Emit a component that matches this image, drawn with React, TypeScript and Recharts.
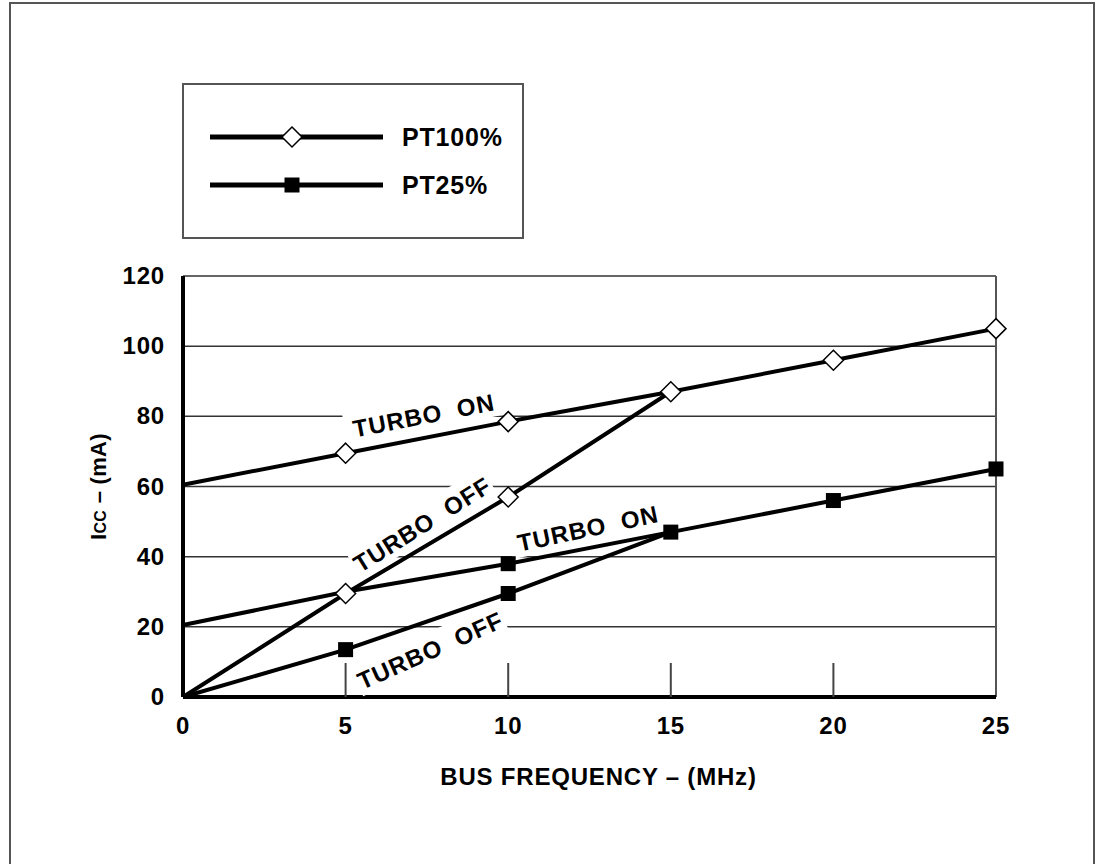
import React from "react";
import {
  CartesianGrid,
  Line,
  LineChart,
  ReferenceDot,
  ReferenceLine,
  XAxis,
  YAxis,
} from "recharts";

// bus frequency (MHz)
const freqFull = [0, 5, 10, 15, 20, 25];
const freqShort = [0, 5, 10, 15];

// Icc (mA)
const pt100On = [60.5, 69.5, 78.5, 87, 96, 105];
const pt100Off = [0, 29.5, 57, 87];
const pt25On = [20.5, 30, 38, 47, 56, 65];
const pt25Off = [0, 13.5, 29.5, 47];

// which points carry a marker (shared points are drawn once)
const pt100OnMarks = [false, true, true, true, true, true];
const pt100OffMarks = [false, true, true, false];
const pt25OnMarks = [false, false, true, true, true, true];
const pt25OffMarks = [false, true, true, false];

const xTicks = [0, 5, 10, 15, 20, 25];
const yTicks = [0, 20, 40, 60, 80, 100, 120];

// curve annotations
const noteText = ["TURBO  ON", "TURBO  OFF", "TURBO  ON", "TURBO  OFF"];
const noteX = [7.4, 7.35, 12.45, 7.6];
const noteY = [80.4, 49.3, 48.2, 13.4];
const noteAngle = [-11, -32, -12, -24];

const FONT = "'Liberation Sans', Arial, Helvetica, sans-serif";
const textStyle = { letterSpacing: "0.8px" };

const toPoints = (xs: number[], ys: number[]) =>
  xs.map((x, i) => ({ x, y: ys[i] }));

const diamondDot = (marks: boolean[]) => (props: any) => {
  const { cx, cy, index } = props;
  if (!marks[index] || cx == null || cy == null) return <g key={`d${index}`} />;
  const r = 10;
  return (
    <path
      key={`d${index}`}
      d={`M${cx},${cy - r}L${cx + r},${cy}L${cx},${cy + r}L${cx - r},${cy}Z`}
      fill="#fff"
      stroke="#000"
      strokeWidth={1.5}
    />
  );
};

const squareDot = (marks: boolean[]) => (props: any) => {
  const { cx, cy, index } = props;
  if (!marks[index] || cx == null || cy == null) return <g key={`s${index}`} />;
  return <rect key={`s${index}`} x={cx - 7.5} y={cy - 7.5} width={15} height={15} fill="#000" />;
};

function XTick(props: any) {
  const { x, y, payload } = props;
  const v = payload.value;
  const axisY = y; // tickSize 0, tickMargin 0
  return (
    <g>
      {v > 0 && v < 25 && (
        <line x1={x} x2={x} y1={axisY} y2={axisY - 34} stroke="#444" strokeWidth={2} />
      )}
      <text
        x={x}
        y={axisY + 37}
        textAnchor="middle"
        fontFamily={FONT}
        fontWeight="bold"
        fontSize={24}
        fill="#000"
        style={textStyle}
      >
        {v}
      </text>
    </g>
  );
}

function YTick(props: any) {
  const { x, y, payload } = props;
  return (
    <text
      x={x}
      y={y + 8}
      textAnchor="end"
      fontFamily={FONT}
      fontWeight="bold"
      fontSize={24}
      fill="#000"
      style={textStyle}
    >
      {payload.value}
    </text>
  );
}

function noteShape(i: number) {
  return (props: any) => {
    const { cx, cy } = props;
    if (cx == null) return <g />;
    return (
      <g transform={`translate(${cx},${cy}) rotate(${noteAngle[i]})`}>
        <rect x={-80} y={-17} width={160} height={32} fill="#fff" />
        <text
          x={0}
          y={9}
          textAnchor="middle"
          fontFamily={FONT}
          fontWeight="bold"
          fontSize={24}
          fill="#000"
          style={{ whiteSpace: "pre", letterSpacing: "1px" }}
        >
          {noteText[i]}
        </text>
      </g>
    );
  };
}

function Legend() {
  return (
    <svg
      width={342}
      height={156}
      style={{ position: "absolute", left: 182, top: 83 }}
    >
      <rect x={1} y={1} width={340} height={154} fill="#fff" stroke="#555" strokeWidth={2} />
      <line x1={28} x2={201} y1={54} y2={54} stroke="#000" strokeWidth={5} />
      <path d="M110,44L120,54L110,64L100,54Z" fill="#fff" stroke="#000" strokeWidth={1.5} />
      <text x={220} y={63} fontFamily={FONT} fontWeight="bold" fontSize={25} style={textStyle}>
        PT100%
      </text>
      <line x1={28} x2={201} y1={102} y2={102} stroke="#000" strokeWidth={5} />
      <rect x={102.5} y={94.5} width={15} height={15} fill="#000" />
      <text x={220} y={111} fontFamily={FONT} fontWeight="bold" fontSize={25} style={textStyle}>
        PT25%
      </text>
    </svg>
  );
}

export default function App() {
  return (
    <div
      style={{
        position: "absolute",
        left: 0,
        top: 0,
        width: 1102,
        height: 864,
        overflow: "hidden",
        background: "#fff",
      }}
    >
      <div
        style={{
          position: "absolute",
          left: 9,
          top: 2,
          width: 1086,
          height: 920,
          border: "2px solid #555",
          boxSizing: "border-box",
        }}
      />
      <LineChart
        width={1102}
        height={864}
        margin={{ top: 276, right: 106, left: 103, bottom: 107 }}
        style={{ position: "absolute", left: 0, top: 0 }}
      >
        <CartesianGrid vertical={false} stroke="#333" strokeWidth={1.5} />
        <XAxis
          type="number"
          dataKey="x"
          domain={[0, 25]}
          ticks={xTicks}
          height={60}
          tickSize={0}
          tickMargin={0}
          tick={<XTick />}
          axisLine={{ stroke: "#000", strokeWidth: 4 }}
          allowDuplicatedCategory={false}
          label={{
            content: (p: any) => {
              const vb = p.viewBox;
              return (
                <text
                  x={vb.x + vb.width / 2 + 9}
                  y={785}
                  textAnchor="middle"
                  fontFamily={FONT}
                  fontWeight="bold"
                  fontSize={24}
                  fill="#000"
                  style={textStyle}
                >
                  BUS FREQUENCY – (MHz)
                </text>
              );
            },
          }}
        />
        <YAxis
          type="number"
          domain={[0, 120]}
          ticks={yTicks}
          width={80}
          tickSize={0}
          tickMargin={18}
          tick={<YTick />}
          axisLine={{ stroke: "#000", strokeWidth: 4 }}
          label={{
            content: (p: any) => {
              const vb = p.viewBox;
              const cy = vb.y + vb.height / 2;
              return (
                <text
                  x={106}
                  y={cy}
                  transform={`rotate(-90, 106, ${cy})`}
                  textAnchor="middle"
                  fontFamily={FONT}
                  fontWeight="bold"
                  fontSize={22}
                  fill="#000"
                  style={{ letterSpacing: "0.3px" }}
                >
                  I<tspan fontSize={16}>CC</tspan> – (mA)
                </text>
              );
            },
          }}
        />
        <ReferenceLine x={25} stroke="#555" strokeWidth={2} />
        {noteText.map((_, i) => (
          <ReferenceDot
            key={`n${i}`}
            x={noteX[i]}
            y={noteY[i]}
            r={0}
            shape={noteShape(i)}
          />
        ))}
        <Line
          data={toPoints(freqShort, pt25Off)}
          dataKey="y"
          stroke="#000"
          strokeWidth={4}
          dot={squareDot(pt25OffMarks)}
          isAnimationActive={false}
        />
        <Line
          data={toPoints(freqFull, pt25On)}
          dataKey="y"
          stroke="#000"
          strokeWidth={4}
          dot={squareDot(pt25OnMarks)}
          isAnimationActive={false}
        />
        <Line
          data={toPoints(freqShort, pt100Off)}
          dataKey="y"
          stroke="#000"
          strokeWidth={4}
          dot={diamondDot(pt100OffMarks)}
          isAnimationActive={false}
        />
        <Line
          data={toPoints(freqFull, pt100On)}
          dataKey="y"
          stroke="#000"
          strokeWidth={4}
          dot={diamondDot(pt100OnMarks)}
          isAnimationActive={false}
        />
      </LineChart>
      <Legend />
    </div>
  );
}
